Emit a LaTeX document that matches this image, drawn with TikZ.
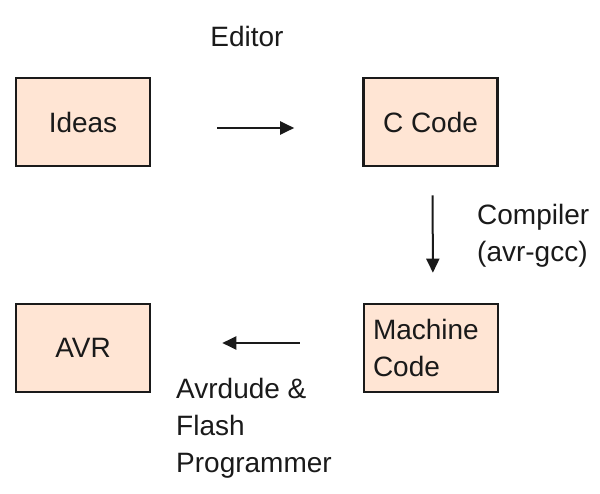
\documentclass[tikz,border=0pt]{standalone}
\usepackage{fontspec}
\setmainfont{Liberation Sans}
\usetikzlibrary{arrows.meta}
\definecolor{peach}{RGB}{255,229,212}
\definecolor{ink}{RGB}{26,26,26}
\tikzset{
  box/.style={draw=ink, line width=2.6pt, fill=peach, minimum width=134pt, minimum height=88pt, inner sep=0pt, font=\fontsize{28}{37}\selectfont, text=ink},
  lbl/.style={font=\fontsize{28}{37}\selectfont, text=ink, inner sep=0pt, align=left},
  flow/.style={draw=ink, line width=2pt, -{Triangle[length=14pt,width=13pt]}}
}
\begin{document}
\begin{tikzpicture}[x=1pt,y=-1pt]
\useasboundingbox (0,0) rectangle (600,494);
\node[box] (ideas) at (83,122) {Ideas};
\node[box] (ccode) at (430.5,122) {C Code};
\node[box] (avr) at (83,348) {AVR};
\node[box, align=left, text width=116pt, inner xsep=9pt] (mc) at (431,348) {Machine\\Code};
\node[lbl, anchor=base] (editor) at (247,47) {Editor};
\node[lbl, anchor=base west] (comp) at (477,262) {Compiler\\(avr-gcc)};
\node[lbl, anchor=base west] (avrd) at (176,472) {Avrdude \&\\Flash\\Programmer};
\draw[flow, shorten <=66pt, shorten >=68pt] ([yshift=-6pt]ideas.east) -- ([yshift=-6pt]ccode.west);
\draw[flow, shorten <=28pt, shorten >=30pt] ([xshift=2pt]ccode.south) -- ([xshift=2pt]mc.north);
\draw[flow, shorten <=63pt, shorten >=71pt] ([yshift=5pt]mc.west) -- ([yshift=5pt]avr.east);
\end{tikzpicture}
\end{document}
